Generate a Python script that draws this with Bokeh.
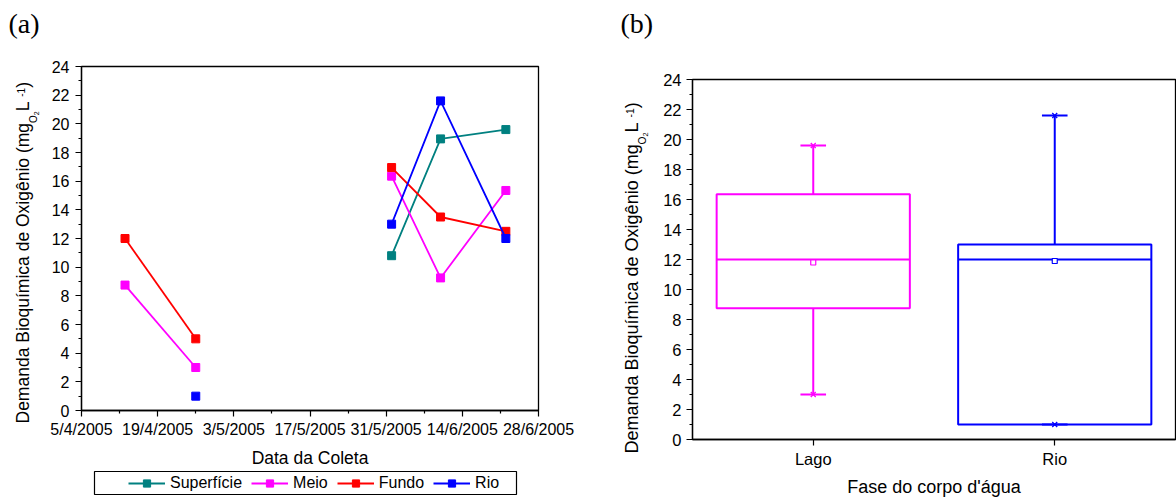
import math
import pandas as pd
from bokeh.plotting import figure
from bokeh.models import (FixedTicker, Label, Legend, LegendItem, BoxAnnotation,
                          ColumnDataSource, FactorRange, Range1d)
from bokeh.layouts import row, column
from bokeh.transform import dodge
from bokeh.embed import file_html
from bokeh.resources import INLINE

# ---------------- data: panel (a) ----------------
tick_labels_a = ["5/4/2005", "19/4/2005", "3/5/2005", "17/5/2005",
                 "31/5/2005", "14/6/2005", "28/6/2005"]
dates_c1 = ["2005-04-13", "2005-04-26"]                    # 1st campaign
dates_c2 = ["2005-06-01", "2005-06-10", "2005-06-22"]      # 2nd campaign
superficie_c2 = [10.8, 18.95, 19.6]
meio_c1 = [8.75, 3.0]
meio_c2 = [16.35, 9.25, 15.35]
fundo_c1 = [12.0, 5.0]
fundo_c2 = [16.95, 13.5, 12.5]
rio_dates_c1 = ["2005-04-26"]
rio_c1 = [1.0]
rio_c2 = [13.0, 21.6, 12.0]
y_ticks = list(range(0, 25, 2))
y_minor = list(range(1, 24, 2))

# ---------------- data: panel (b) ----------------
cats = ["Lago", "Rio"]
q1 = [8.75, 1.0]
median = [12.0, 12.0]
q3 = [16.35, 13.0]
mean = [11.8, 11.9]
lo = [3.0, 1.0]
hi = [19.6, 21.6]
box_colors = ["#FF00FF", "#0000FF"]

TEAL, MAG, RED, BLUE = "#008080", "#FF00FF", "#FF0000", "#0000FF"
FONT = "Liberation Sans"
H = 499
BASE_FIX = 0.38   # empirical baseline correction (em)


def to_ms(ts):
    return [float((t - pd.Timestamp("1970-01-01")) // pd.Timedelta("1ms")) for t in ts]


def style_axis(ax, size):
    ax.axis_line_color = "black"
    ax.axis_line_width = 1.3
    ax.major_tick_in = 0
    ax.major_tick_out = 6
    ax.minor_tick_in = 0
    ax.minor_tick_out = 3
    ax.major_tick_line_color = "black"
    ax.minor_tick_line_color = "black"
    ax.major_tick_line_width = 1.2
    ax.minor_tick_line_width = 1.2
    ax.major_label_text_font = FONT
    ax.major_label_text_font_size = size
    ax.major_label_text_color = "black"
    ax.axis_label_text_font = FONT
    ax.axis_label_text_font_style = "normal"
    ax.axis_label_text_color = "black"


def blank_fig(width, height):
    f = figure(width=width, height=height, x_range=Range1d(0, 1), y_range=Range1d(0, 1),
               output_backend="svg", toolbar_location=None, title=None,
               x_axis_location=None, y_axis_location=None, min_border=0)
    f.outline_line_color = None
    f.grid.visible = False
    return f


def add_text(f, fig_left, fig_top, fig_h, page_x, page_y, txt, size, font=FONT, angle=0.0):
    if angle:
        page_x -= BASE_FIX * size
    else:
        page_y -= BASE_FIX * size
    f.add_layout(Label(x=page_x - fig_left, y=fig_top + fig_h - page_y, x_units="screen",
                       y_units="screen", text=txt, angle=angle, text_align="left",
                       text_baseline="alphabetic", text_font=font,
                       text_font_size=f"{size:.1f}px", text_color="black"))


def ylabel(f, fig_left, page_x, page_y, fs):
    # Arial/Liberation Sans advance widths (per 1000 em)
    W = {'D': 722, 'e': 556, 'm': 833, 'a': 556, 'n': 556, 'd': 556, ' ': 278,
         'B': 667, 'i': 222, 'o': 556, 'q': 556, 'u': 556, 'í': 278, 'c': 500,
         'O': 778, 'x': 500, 'g': 556, 'ê': 556, '(': 333, ')': 333, 'L': 556,
         '2': 556, '-': 333, '1': 556}
    pieces = [("Demanda Bioquímica de Oxigênio (mg", fs, 0),
              ("O", fs * 0.57, 8), ("2", fs * 0.4, 10),
              (" L", fs, 0), ("-1", fs * 0.57, -5), (")", fs, 0)]
    y = page_y
    for txt, size, shift in pieces:
        add_text(f, fig_left, 0, H, page_x + shift, y, txt, size, angle=math.pi / 2)
        y -= sum(W[c] for c in txt) / 1000 * size


# ================= panel (a) =================
maj = pd.to_datetime(tick_labels_a, format="%d/%m/%Y")
maj_ms = to_ms(maj)
min_ms = [(a + b) / 2 for a, b in zip(maj_ms[:-1], maj_ms[1:])]

LA_W = 48
ta = blank_fig(LA_W, H)
ylabel(ta, 0, 29, 423, 17.5)
add_text(ta, 0, 0, H, 8, 34, "(a)", 28, font="Liberation Serif")

PA_H = 470
pa = figure(width=600 - LA_W, height=PA_H, x_axis_type="datetime", title=None,
            x_range=Range1d(maj_ms[0], maj_ms[-1]), y_range=Range1d(0, 24),
            output_backend="svg", toolbar_location=None,
            min_border_left=80 - LA_W, min_border_right=62,
            min_border_top=66, min_border_bottom=PA_H - 410)
pa.grid.visible = False
pa.outline_line_color = "black"
pa.outline_line_width = 1.3
pa.outline_line_alpha = 1

pa.xaxis.ticker = FixedTicker(ticks=maj_ms, minor_ticks=min_ms)
pa.xaxis.major_label_overrides = {m: t for m, t in zip(maj_ms, tick_labels_a)}
pa.yaxis.ticker = FixedTicker(ticks=y_ticks, minor_ticks=y_minor)
style_axis(pa.xaxis[0], "16px")
style_axis(pa.yaxis[0], "16px")
pa.xaxis.major_label_standoff = 4
pa.yaxis.major_label_standoff = 6
pa.xaxis.axis_label = "Data da Coleta"
pa.xaxis.axis_label_text_font_size = "17.5px"
pa.xaxis.axis_label_standoff = 7

d1 = pd.to_datetime(dates_c1)
d2 = pd.to_datetime(dates_c2)
dr = pd.to_datetime(rio_dates_c1)

series = [("Superfície", TEAL, [], [], d2, superficie_c2),
          ("Meio", MAG, d1, meio_c1, d2, meio_c2),
          ("Fundo", RED, d1, fundo_c1, d2, fundo_c2),
          ("Rio", BLUE, dr, rio_c1, d2, rio_c2)]
for name, col, xa, ya, xb, yb in series:
    for xs, ys in ((xa, ya), (xb, yb)):
        if len(ys) == 0:
            continue
        if len(ys) > 1:
            pa.line(x=list(xs), y=ys, line_color=col, line_width=1.8)
        pa.scatter(x=list(xs), y=ys, marker="square", size=8,
                   fill_color=col, line_color=col, line_width=1)

# legend strip under panel (a)
LG_H = H - PA_H
lg = blank_fig(600 - LA_W, LG_H)
nan = float("nan")
items = []
for name, col, *_ in series:
    r1 = lg.line(x=[nan], y=[nan], line_color=col, line_width=1.8)
    r2 = lg.scatter(x=[nan], y=[nan], marker="square", size=8, fill_color=col, line_color=col)
    items.append(LegendItem(label=name, renderers=[r1, r2]))
leg = Legend(items=items, orientation="horizontal", location=(128 - LA_W, H - 492),
             padding=0, margin=0, spacing=9, glyph_width=37, glyph_height=18,
             label_height=18, label_standoff=5, label_text_font=FONT,
             label_text_font_size="16px", label_text_color="black",
             border_line_alpha=0, background_fill_alpha=0)
lg.add_layout(leg)
lg.add_layout(BoxAnnotation(left=94 - LA_W, right=516 - LA_W, top=H - 471, bottom=H - 494,
                            left_units="screen", right_units="screen",
                            top_units="screen", bottom_units="screen",
                            fill_alpha=0, line_color="black", line_width=1.2,
                            line_alpha=1))

# ================= panel (b) =================
LB_W = 60
tb = blank_fig(LB_W, H)
ylabel(tb, 600, 638, 453, 18)
add_text(tb, 600, 0, H, 620, 34, "(b)", 28, font="Liberation Serif")

B_L = 691
pb = figure(width=1176 - 600 - LB_W, height=H, x_range=FactorRange(*cats), title=None,
            y_range=Range1d(0, 24), output_backend="svg", toolbar_location=None,
            min_border_left=B_L - 600 - LB_W, min_border_right=1,
            min_border_top=79, min_border_bottom=60)
pb.grid.visible = False
pb.outline_line_color = "black"
pb.outline_line_width = 1.3
pb.outline_line_alpha = 1
pb.yaxis.ticker = FixedTicker(ticks=y_ticks, minor_ticks=y_minor)
style_axis(pb.xaxis[0], "16.5px")
style_axis(pb.yaxis[0], "16.5px")
pb.xaxis.minor_tick_out = 0
pb.xaxis.major_label_standoff = 4
pb.yaxis.major_label_standoff = 5
pb.xaxis.axis_label = "Fase do corpo d'água"
pb.xaxis.axis_label_text_font_size = "18px"
pb.xaxis.axis_label_standoff = 6

src = ColumnDataSource(dict(cat=cats, q1=q1, median=median, q3=q3, mean=mean,
                            lo=lo, hi=hi, color=box_colors))
pb.vbar(x="cat", top="q3", bottom="q1", width=0.8, source=src, fill_alpha=0,
        line_color="color", line_width=2)
pb.segment(x0=dodge("cat", -0.4, range=pb.x_range), x1=dodge("cat", 0.4, range=pb.x_range),
           y0="median", y1="median", source=src, line_color="color", line_width=2)
pb.segment(x0="cat", x1="cat", y0="q3", y1="hi", source=src, line_color="color", line_width=2)
pb.segment(x0="cat", x1="cat", y0="q1", y1="lo", source=src, line_color="color", line_width=2)
for fld in ("hi", "lo"):
    pb.segment(x0=dodge("cat", -0.053, range=pb.x_range), x1=dodge("cat", 0.053, range=pb.x_range),
               y0=fld, y1=fld, source=src, line_color="color", line_width=2)
    pb.scatter(x="cat", y=fld, source=src, marker="x", size=7, line_color="color",
               line_width=1.3)
pb.scatter(x="cat", y="mean", source=src, marker="square", size=5, fill_color="white",
           line_color="color", line_width=1.2)

layout = row(column(ta), column(column(pa), column(lg)), column(tb), column(pb), spacing=0)
open("out.html", "w").write(file_html(layout, INLINE))
